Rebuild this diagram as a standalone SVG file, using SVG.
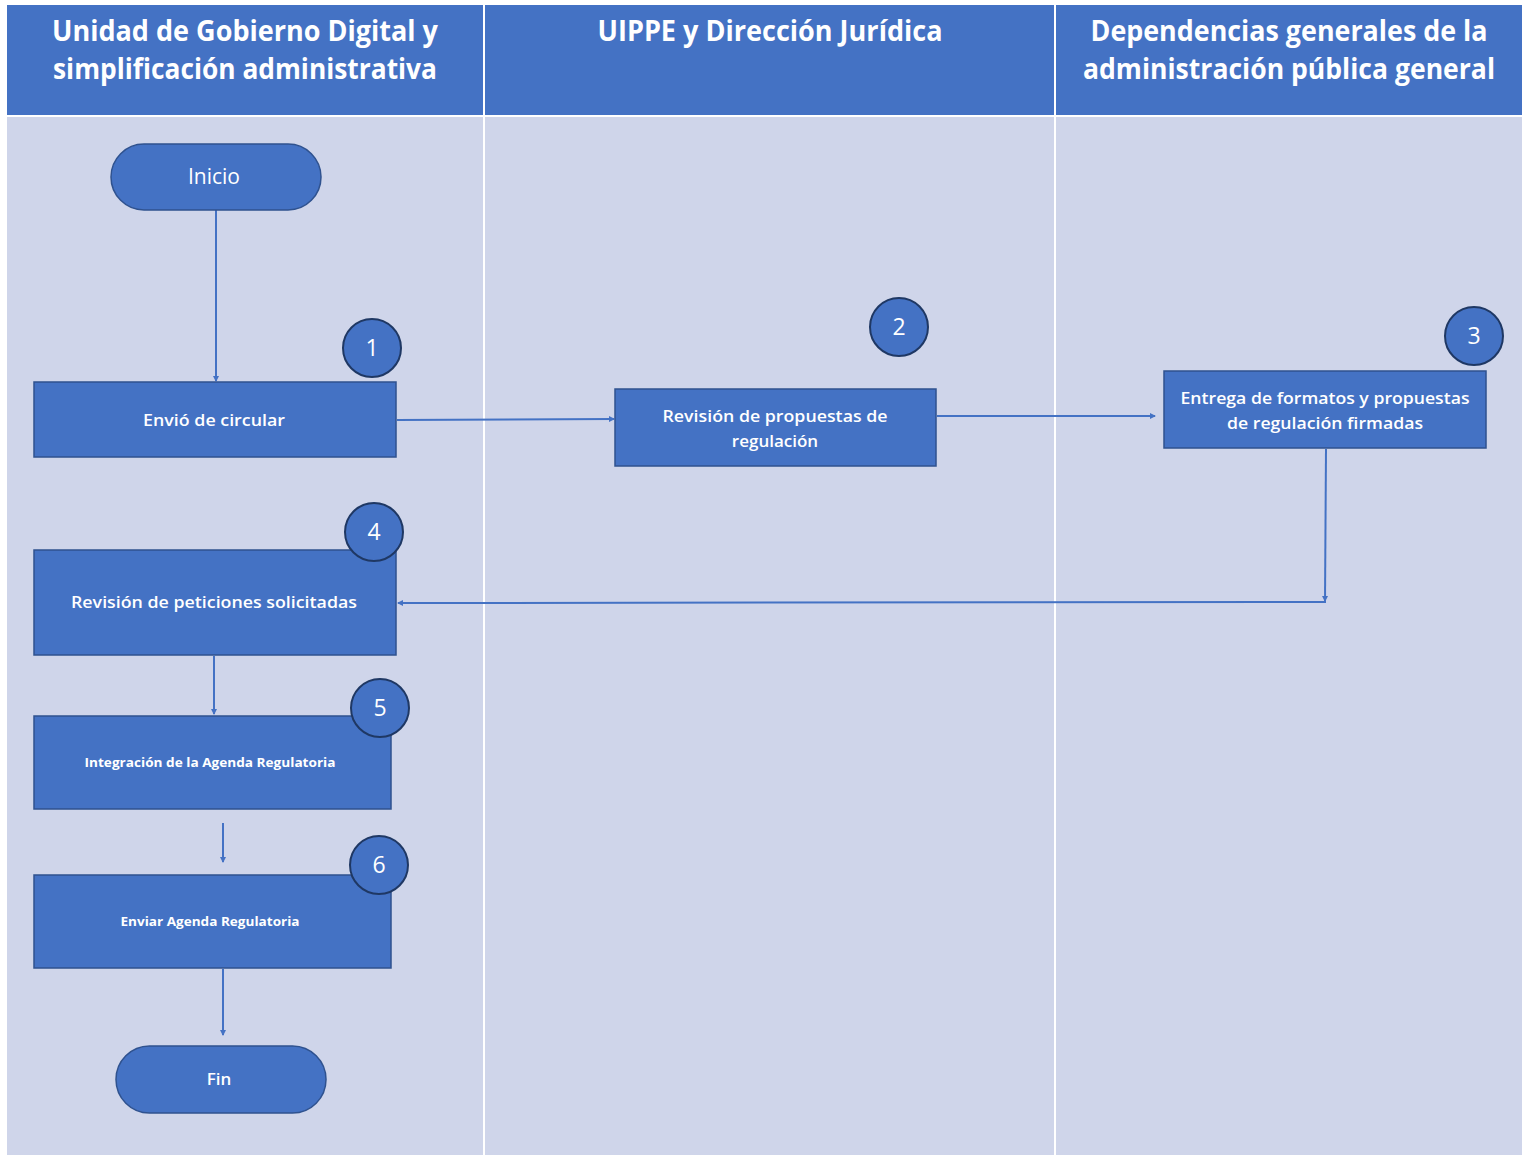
<svg xmlns="http://www.w3.org/2000/svg" width="1530" height="1155" viewBox="0 0 1530 1155">
<style>
.hdr{fill:#4472C4}
.lane{fill:#CFD5EA}
.node{fill:#4472C4;stroke:#2F528F;stroke-width:1.5}
.num{fill:#4472C4;stroke:#1F3864;stroke-width:2}
.ht{font-family:"Open Sans","Liberation Sans",sans-serif;font-weight:bold;font-size:28px;fill:#fff;text-anchor:middle}
.nt{font-family:"Open Sans","Liberation Sans",sans-serif;font-weight:600;font-size:17px;fill:#fff;text-anchor:middle}
.st{font-family:"Open Sans","Liberation Sans",sans-serif;font-weight:bold;font-size:13px;fill:#fff;text-anchor:middle}
.nm{font-family:"Open Sans","Liberation Sans",sans-serif;font-size:23px;fill:#fff;text-anchor:middle}
.c{fill:none;stroke:#4472C4;stroke-width:2}
</style>
<defs>
<marker id="ah" markerWidth="6" markerHeight="6" refX="5" refY="3" orient="auto" markerUnits="userSpaceOnUse">
<path d="M0,0 L6,3 L0,6 z" fill="#4472C4"/>
</marker>
</defs>
<rect x="0" y="0" width="1530" height="1155" fill="#ffffff"/>
<g id="lanes">
<rect class="lane" x="7" y="117" width="476" height="1038"/>
<rect class="lane" x="485" y="117" width="569" height="1038"/>
<rect class="lane" x="1056" y="117" width="466" height="1038"/>
<rect class="hdr" x="7" y="5" width="476" height="110"/>
<rect class="hdr" x="485" y="5" width="569" height="110"/>
<rect class="hdr" x="1056" y="5" width="466" height="110"/>
<text class="ht" x="245" y="41" textLength="386" lengthAdjust="spacingAndGlyphs">Unidad de Gobierno Digital y</text>
<text class="ht" x="245" y="79" textLength="384" lengthAdjust="spacingAndGlyphs">simplificación administrativa</text>
<text class="ht" x="770" y="41" textLength="345" lengthAdjust="spacingAndGlyphs">UIPPE y Dirección Jurídica</text>
<text class="ht" x="1289" y="41" textLength="397" lengthAdjust="spacingAndGlyphs">Dependencias generales de la</text>
<text class="ht" x="1289" y="79" textLength="412" lengthAdjust="spacingAndGlyphs">administración pública general</text>
</g>
<g id="connectors">
<line class="c" x1="216" y1="210" x2="216" y2="381" marker-end="url(#ah)"/>
<line class="c" x1="397" y1="420" x2="614" y2="419" marker-end="url(#ah)"/>
<line class="c" x1="937" y1="416" x2="1155" y2="416" marker-end="url(#ah)"/>
<line class="c" x1="1326" y1="449" x2="1325" y2="601" marker-end="url(#ah)"/>
<polyline class="c" points="1325,598 1325,602 398,603" marker-end="url(#ah)"/>
<line class="c" x1="214" y1="656" x2="214" y2="714" marker-end="url(#ah)"/>
<line class="c" x1="223" y1="823" x2="223" y2="862" marker-end="url(#ah)"/>
<line class="c" x1="223" y1="969" x2="223" y2="1035" marker-end="url(#ah)"/>
</g>
<g id="inicio">
<rect class="node" x="111" y="144" width="210" height="66" rx="33"/>
<text class="nm" x="214" y="184" style="font-size:21px">Inicio</text>
</g>
<g id="n1">
<rect class="node" x="34" y="382" width="362" height="75"/>
<text class="nt" x="214" y="426" textLength="142" lengthAdjust="spacingAndGlyphs">Envió de circular</text>
<circle class="num" cx="372" cy="348" r="29"/>
<text class="nm" x="372" y="356">1</text>
</g>
<g id="n2">
<rect class="node" x="615" y="389" width="321" height="77"/>
<text class="nt" x="775" y="422" textLength="225" lengthAdjust="spacingAndGlyphs">Revisión de propuestas de</text>
<text class="nt" x="775" y="447">regulación</text>
<circle class="num" cx="899" cy="327" r="29"/>
<text class="nm" x="899" y="335">2</text>
</g>
<g id="n3">
<rect class="node" x="1164" y="371" width="322" height="77"/>
<text class="nt" x="1325" y="404" textLength="289" lengthAdjust="spacingAndGlyphs">Entrega de formatos y propuestas</text>
<text class="nt" x="1325" y="429" textLength="196" lengthAdjust="spacingAndGlyphs">de regulación firmadas</text>
<circle class="num" cx="1474" cy="336" r="29"/>
<text class="nm" x="1474" y="344">3</text>
</g>
<g id="n4">
<rect class="node" x="34" y="550" width="362" height="105"/>
<text class="nt" x="214" y="608" textLength="286" lengthAdjust="spacingAndGlyphs">Revisión de peticiones solicitadas</text>
<circle class="num" cx="374" cy="532" r="29"/>
<text class="nm" x="374" y="540">4</text>
</g>
<g id="n5">
<rect class="node" x="34" y="716" width="357" height="93"/>
<text class="st" x="210" y="767" textLength="251" lengthAdjust="spacingAndGlyphs">Integración de la Agenda Regulatoria</text>
<circle class="num" cx="380" cy="708" r="29"/>
<text class="nm" x="380" y="716">5</text>
</g>
<g id="n6">
<rect class="node" x="34" y="875" width="357" height="93"/>
<text class="st" x="210" y="926" textLength="179" lengthAdjust="spacingAndGlyphs">Enviar Agenda Regulatoria</text>
<circle class="num" cx="379" cy="865" r="29"/>
<text class="nm" x="379" y="873">6</text>
</g>
<g id="fin">
<rect class="node" x="116" y="1046" width="210" height="67" rx="33.5"/>
<text class="nt" x="219" y="1085">Fin</text>
</g>
</svg>
